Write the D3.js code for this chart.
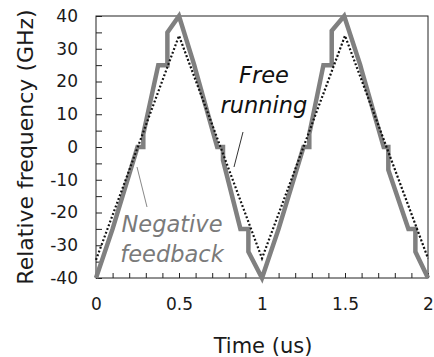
<!DOCTYPE html>
<html>
<head>
<meta charset="utf-8">
<script src="https://cdn.jsdelivr.net/npm/d3@7"></script>
<style>
  body { margin: 0; background: #fff; }
  svg text { font-family: "DejaVu Sans", sans-serif; fill: #1a1a1a; }
</style>
</head>
<body>
<div id="chart"></div>
<script>
// Negative feedback (thick gray, stepped triangle)
const nfTime = [0, 0.1, 0.25, 0.285, 0.285, 0.375, 0.43, 0.43, 0.5,
                0.592, 0.6, 0.73, 0.765, 0.765, 0.87, 0.918, 0.918, 1.0,
                1.1, 1.25, 1.285, 1.285, 1.37, 1.42, 1.42, 1.495,
                1.592, 1.6, 1.733, 1.761, 1.761, 1.882, 1.924, 1.924, 2.0];
const nfFreq = [-40, -25, 0, 0, 4, 25, 25, 35, 40,
                25, 23.5, 0, 0, -4, -25, -25, -32, -40,
                -25, 0, 0, 4, 25, 25, 35.5, 40,
                25, 23.5, 0, 0, -7, -25, -25, -32, -40];

// Free running (dotted black triangle)
const frTime = [0, 0.5, 1.0, 1.5, 2.0];
const frFreq = [-34.5, 34, -34, 34, -34];

const xLabelTicks = [0, 0.5, 1, 1.5, 2];
const yLabelTicks = [-40, -30, -20, -10, 0, 10, 20, 30, 40];

const margin = { top: 16, right: 6, bottom: 79, left: 96 };
const W = 434, H = 357;
const width = W - margin.left - margin.right;
const height = H - margin.top - margin.bottom;

const svg = d3.select("#chart").append("svg")
    .attr("width", W).attr("height", H);
const g = svg.append("g")
    .attr("transform", `translate(${margin.left},${margin.top})`);

const x = d3.scaleLinear().domain([0, 2]).range([0, width]);
const y = d3.scaleLinear().domain([-40, 40]).range([height, 0]);

// Axes with inward ticks
const xAxis = g.append("g")
    .attr("transform", `translate(0,${height})`)
    .call(d3.axisBottom(x)
        .tickValues(d3.range(0, 2.0001, 0.1))
        .tickSize(-5).tickPadding(20)
        .tickFormat(d => xLabelTicks.some(t => Math.abs(t - d) < 1e-6) ? d3.format("~g")(d) : ""));

const yAxis = g.append("g")
    .call(d3.axisLeft(y)
        .tickValues(d3.range(-40, 40.001, 5))
        .tickSize(-6).tickPadding(18)
        .tickFormat(d => yLabelTicks.includes(d) ? String(d) : ""));

[xAxis, yAxis].forEach(a => {
    a.select(".domain").remove();
    a.selectAll(".tick line").attr("stroke", "#222");
    a.selectAll(".tick text").attr("font-size", 17).attr("font-family", "DejaVu Sans").attr("fill", "#1a1a1a");
});

// Frame
g.append("rect")
    .attr("width", width).attr("height", height)
    .attr("fill", "none").attr("stroke", "#222").attr("stroke-width", 1);

// Lines
const nfData = nfTime.map((t, i) => [t, nfFreq[i]]);
const frData = frTime.map((t, i) => [t, frFreq[i]]);
const line = d3.line().x(d => x(d[0])).y(d => y(d[1]));

g.append("path")
    .datum(nfData)
    .attr("fill", "none")
    .attr("stroke", "#808080")
    .attr("stroke-width", 4.5)
    .attr("d", line);

g.append("path")
    .datum(frData)
    .attr("fill", "none")
    .attr("stroke", "#111")
    .attr("stroke-width", 2.2)
    .attr("stroke-dasharray", "2,2")
    .attr("d", line);

// Annotations
const note = (lines, cx, baseline, color) => {
    lines.forEach((s, i) => {
        svg.append("text")
            .attr("x", cx).attr("y", baseline + i * 30)
            .attr("text-anchor", "middle")
            .attr("font-size", 22.5)
            .attr("font-style", "italic")
            .style("fill", color)
            .text(s);
    });
};
note(["Free", "running"], 264, 83, "#111");
note(["Negative", "feedback"], 172, 232, "#7a7a7a");

svg.append("line")
    .attr("x1", 243).attr("y1", 132).attr("x2", 234).attr("y2", 167)
    .attr("stroke", "#333").attr("stroke-width", 1);
svg.append("line")
    .attr("x1", 137).attr("y1", 167).attr("x2", 147).attr("y2", 207)
    .attr("stroke", "#888").attr("stroke-width", 1);

// Axis titles
svg.append("text")
    .attr("x", margin.left + width / 2 + 1).attr("y", 353)
    .attr("text-anchor", "middle")
    .attr("font-size", 21)
    .text("Time (us)");

svg.append("text")
    .attr("transform", `translate(33,${margin.top + height / 2}) rotate(-90)`)
    .attr("text-anchor", "middle")
    .attr("font-size", 22)
    .text("Relative frequency (GHz)");
</script>
</body>
</html>
